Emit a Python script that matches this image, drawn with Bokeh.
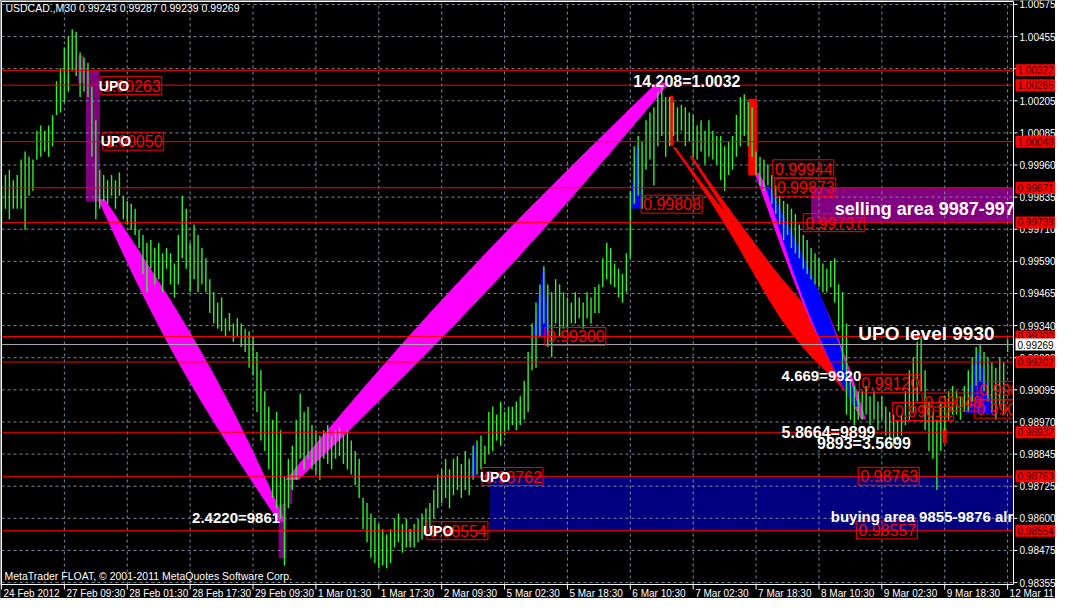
import numpy as np
from bokeh.plotting import figure
from bokeh.models import Range1d
from bokeh.core.properties import value
from bokeh.embed import file_html
from bokeh.resources import INLINE

# ---------------- data ----------------
symbol_caption = "USDCAD.,M30  0.99243 0.99287 0.99239 0.99269"
copyright_caption = "MetaTrader FLOAT, \u00a9 2001-2011 MetaQuotes Software Corp."

# M30 bar highs / lows in pips (price * 10000)
bar_high_pips = [
    9988, 9992, 9994, 9990, 9992, 9998, 10001, 9999, 9998, 10009,
    10011, 10009, 10011, 10015, 10028, 10033, 10041, 10045, 10048, 10047,
    10039, 10037, 10035, 10026, 10013, 9994, 9992, 9990, 9992, 9990,
    9993, 9984, 9982, 9981, 9979, 9971, 9969, 9966, 9967, 9964,
    9966, 9962, 9964, 9962, 9958, 9969, 9984, 9979, 9966, 9973,
    9969, 9964, 9960, 9952, 9947, 9943, 9945, 9937, 9939, 9935,
    9937, 9935, 9933, 9932, 9930, 9924, 9917, 9909, 9903, 9898,
    9901, 9894, 9876, 9883, 9888, 9898, 9908, 9901, 9903, 9896,
    9894, 9892, 9894, 9896, 9892, 9894, 9895, 9892, 9894, 9890,
    9886, 9883, 9868, 9866, 9862, 9860, 9858, 9856, 9854, 9856,
    9860, 9862, 9858, 9860, 9856, 9858, 9860, 9862, 9864, 9866,
    9871, 9877, 9879, 9883, 9879, 9883, 9884, 9881, 9886, 9883,
    9888, 9890, 9892, 9888, 9901, 9903, 9900, 9905, 9901, 9903,
    9903, 9905, 9907, 9913, 9924, 9935, 9943, 9950, 9957, 9950,
    9947, 9952, 9950, 9947, 9945, 9943, 9947, 9945, 9943, 9947,
    9945, 9949, 9950, 9960, 9966, 9964, 9958, 9956, 9954, 9962,
    9986, 10003, 10007, 10005, 10013, 10016, 10018, 10024, 10026, 10022,
    10022, 10020, 10018, 10019, 10018, 10016, 10015, 10011, 10013, 10009,
    10013, 10009, 10007, 10007, 10003, 10005, 10007, 10015, 10022, 10023,
    10020, 10018, 10001, 9999, 9998, 9996, 9992, 9988, 9984, 9982,
    9981, 9979, 9977, 9973, 9969, 9967, 9964, 9962, 9960, 9958,
    9956, 9959, 9960, 9950, 9947, 9935, 9913, 9911, 9909, 9909,
    9911, 9907, 9909, 9905, 9907, 9903, 9901, 9900, 9898, 9900,
    9909, 9917, 9922, 9928, 9930, 9917, 9905, 9901, 9898, 9905,
    9907, 9909, 9911, 9909, 9907, 9911, 9917, 9922, 9926, 9927,
    9924, 9922, 9920, 9918, 9922, 9920, 9929,
]
bar_low_pips = [
    9973, 9979, 9975, 9979, 9979, 9979, 9971, 9984, 9986, 9998,
    9999, 10001, 9999, 10003, 10015, 10016, 10020, 10024, 10032, 10030,
    10022, 10024, 10022, 9999, 9975, 9979, 9982, 9981, 9984, 9979,
    9984, 9975, 9973, 9971, 9969, 9964, 9954, 9947, 9956, 9950,
    9952, 9947, 9956, 9950, 9945, 9950, 9960, 9956, 9947, 9952,
    9947, 9950, 9947, 9939, 9935, 9933, 9932, 9930, 9932, 9928,
    9930, 9926, 9924, 9918, 9915, 9901, 9890, 9886, 9879, 9868,
    9864, 9860, 9842, 9864, 9871, 9875, 9883, 9879, 9883, 9879,
    9877, 9875, 9883, 9881, 9879, 9883, 9884, 9881, 9879, 9877,
    9873, 9868, 9856, 9851, 9845, 9843, 9841, 9842, 9841, 9843,
    9849, 9851, 9847, 9849, 9849, 9849, 9851, 9852, 9854, 9856,
    9860, 9864, 9866, 9868, 9864, 9869, 9871, 9868, 9871, 9869,
    9875, 9877, 9879, 9881, 9885, 9886, 9890, 9888, 9892, 9894,
    9896, 9894, 9896, 9898, 9901, 9917, 9918, 9930, 9935, 9926,
    9922, 9935, 9930, 9933, 9933, 9935, 9935, 9937, 9933, 9937,
    9935, 9939, 9939, 9949, 9952, 9950, 9949, 9945, 9943, 9947,
    9960, 9981, 9984, 9979, 9994, 9998, 9988, 10003, 10007, 9999,
    10003, 10007, 10005, 10009, 10003, 10005, 9999, 9998, 10001, 9996,
    9999, 9998, 9996, 9990, 9986, 9992, 9994, 9999, 10003, 10007,
    10003, 9999, 9992, 9988, 9986, 9988, 9981, 9977, 9973, 9967,
    9969, 9964, 9962, 9960, 9956, 9954, 9952, 9950, 9949, 9947,
    9947, 9949, 9943, 9932, 9917, 9900, 9898, 9896, 9898, 9898,
    9900, 9896, 9898, 9894, 9898, 9892, 9890, 9888, 9890, 9892,
    9896, 9898, 9901, 9905, 9909, 9894, 9886, 9883, 9871, 9886,
    9894, 9898, 9900, 9900, 9898, 9901, 9901, 9905, 9911, 9913,
    9909, 9905, 9901, 9898, 9903, 9900, 9924,
]

x_tick_labels = ["24 Feb 2012", "27 Feb 09:30", "28 Feb 01:30", "28 Feb 17:30",
                 "29 Feb 09:30", "1 Mar 01:30", "1 Mar 17:30", "2 Mar 09:30",
                 "5 Mar 02:30", "5 Mar 18:30", "6 Mar 10:30", "7 Mar 02:30",
                 "7 Mar 18:30", "8 Mar 10:30", "9 Mar 02:30", "9 Mar 18:30",
                 "12 Mar 11:30"]
bars_per_x_tick = 16
y_tick_labels = ["1.00575", "1.00455", "1.00330", "1.00205", "1.00085", "0.99960",
                 "0.99835", "0.99710", "0.99590", "0.99465", "0.99340", "0.99220",
                 "0.99095", "0.98970", "0.98845", "0.98725", "0.98600", "0.98475",
                 "0.98355"]

level_prices = [1.00322, 1.00265, 1.00048, 0.99871, 0.99738,
                0.99300, 0.99202, 0.98932, 0.98763, 0.98554]
current_price = 0.99269

# price boxes drawn on the chart (text = price level), left edge in bars
box_label_texts = ["1.00263", "1.00050", "0.99808", "0.99300", "0.98762", "0.98554",
                   "0.99944", "0.99873", "0.99737", "0.99120", "0.99012", "0.99048",
                   "0.99093", "0.99021", "0.98763", "0.98557"]
box_label_bars = [25.25, 25.75, 162.75, 138.25, 122.25, 108.25,
                  196.25, 196.75, 204.0, 218.25, 226.75, 234.25,
                  248.25, 247.5, 218.0, 217.5]

upo_bars = [24.75, 25.25, 121.75, 107.25]
upo_prices = [1.00263, 1.00050, 0.98762, 0.98554]

note_texts = ["14.208=1.0032", "2.4220=9861", "UPO level 9930", "4.669=9920",
              "5.8664=9899", "9893=3.5699"]
note_bars = [160.75, 48.5, 218.0, 198.5, 198.5, 207.5]
note_prices = [1.00281, 0.98604, 0.99312, 0.99150, 0.98932, 0.98890]

sell_text, sell_bar, sell_price = "selling area 9987-997", 212.0, 0.99791
buy_text, buy_bar, buy_price = "buying area 9855-9876 alr", 211.0, 0.98607

sell_zone = (206.0, 262.0, 0.99871, 0.99738)   # left, right, top, bottom
buy_zone = (124.25, 262.0, 0.98763, 0.98557)

upo_zone_left = [19.5, 21.5, 70.5, 73.0, 103.5]
upo_zone_right = [21.0, 25.0, 72.5, 74.0, 104.5]
upo_zone_top = [1.00379, 1.00319, 0.98657, 0.98758, 0.98562]
upo_zone_bottom = [1.00273, 0.99817, 0.98449, 0.98657, 0.98513]

red_block_left = [170.0, 190.0, 239.5]
red_block_right = [171.0, 192.25, 240.5]
red_block_top = [1.00224, 1.00213, 0.98947]
red_block_bottom = [1.00032, 0.99919, 0.98890]

# blue spikes: left bar, apex bar, right bar, apex price, base price
spike_left = [160.0, 135.25, 119.5, 245.5]
spike_apex = [161.75, 138.0, 120.25, 248.25]
spike_right = [162.75, 139.25, 120.75, 252.5]
spike_top = [1.00034, 0.99572, 0.98890, 0.99252]
spike_base = [0.99793, 0.99297, 0.98762, 0.99007]

# waves (zig-zag bands)
wave_start_bar = [25.5, 74.0, 171.25, 175.5, 192.25, 195.0]
wave_start_price = [0.99825, 0.98751, 1.00025, 0.99990, 0.99927, 0.99874]
wave_end_bar = [71.25, 168.25, 216.5, 217.75, 219.25, 217.25]
wave_end_price = [0.98592, 1.00273, 0.99080, 0.99040, 0.98984, 0.99033]

# ---------------- styles / layout ----------------
WAVE_COLORS = ["#ff00ff", "#ff00ff", "#ff0000", "#ff0000", "#ff00ff", "#0000ff"]
WAVE_WMAX = [14, 18, 17, 10, 10, 9]     # max half width, px
WAVE_WMIN = [3, 6, 1, 1, 2, 2]
WAVE_SKEW = [1.0, 1.0, 2.2, 1.8, 1.2, 1.2]

FONT = value("Liberation Sans")
X0, X1 = 0.0, 257.5            # chart window in bars
Y0, Y1 = 0.983475, 1.005863    # chart window in price
W, H = 1055, 598               # canvas
CL, CR, CT, CB = 1, 1013, 1, 584   # chart frame edges in canvas pixels
PXB = (CR - CL) / (X1 - X0)
PXP = (CB - CT) / (Y1 - Y0)
XS, XE = X0 - CL / PXB, X0 + (W - CL) / PXB
YS, YE = Y1 - (H - CT) / PXP, Y1 + CT / PXP
GRID_COLOR = "#7a8899"

p = figure(width=W, height=H, x_range=Range1d(XS, XE), y_range=Range1d(YS, YE),
           x_axis_location=None, y_axis_location=None,
           output_backend="svg", toolbar_location=None, min_border=0,
           background_fill_color="black", border_fill_color="black",
           outline_line_color=None)
p.grid.visible = False

x_tick_bars = [k * bars_per_x_tick for k in range(len(x_tick_labels))]
y_tick_pos = [float(v) for v in np.linspace(float(y_tick_labels[0]), float(y_tick_labels[-1]),
                                            len(y_tick_labels))]

# zones
p.quad(left=[sell_zone[0]], right=[sell_zone[1]], top=[sell_zone[2]], bottom=[sell_zone[3]],
       fill_color="#800080", line_color=None)
p.quad(left=[buy_zone[0]], right=[buy_zone[1]], top=[buy_zone[2]], bottom=[buy_zone[3]],
       fill_color="#000080", line_color=None)
p.quad(left=upo_zone_left, right=upo_zone_right, top=upo_zone_top, bottom=upo_zone_bottom,
       fill_color="#800080", line_color=None)

# dashed grid
n_x, n_y = len(x_tick_bars), len(y_tick_pos)
p.segment(x0=x_tick_bars, x1=x_tick_bars, y0=[Y0] * n_x, y1=[Y1] * n_x,
          line_color=GRID_COLOR, line_dash="3 3", line_width=1)
p.segment(x0=[X0] * n_y, x1=[X1] * n_y, y0=y_tick_pos, y1=y_tick_pos,
          line_color=GRID_COLOR, line_dash="3 3", line_width=1)

# waves
for i in range(len(wave_start_bar)):
    t = np.linspace(0, 1, 80)
    cx = wave_start_bar[i] + (wave_end_bar[i] - wave_start_bar[i]) * t
    cy = wave_start_price[i] + (wave_end_price[i] - wave_start_price[i]) * t
    w = (WAVE_WMIN[i] + (WAVE_WMAX[i] - WAVE_WMIN[i]) * np.sin(np.pi * t ** WAVE_SKEW[i])) / PXB
    xs = np.concatenate([cx - w, (cx + w)[::-1]])
    ys = np.concatenate([cy, cy[::-1]])
    p.patch(xs, ys, fill_color=WAVE_COLORS[i], line_color=WAVE_COLORS[i], line_width=1)

# blue spikes
p.patches(xs=[[l, a, r] for l, a, r in zip(spike_left, spike_apex, spike_right)],
          ys=[[b, t, b] for t, b in zip(spike_top, spike_base)],
          fill_color="#0000ff", line_color="#0000ff")

# red blocks
p.quad(left=red_block_left, right=red_block_right, top=red_block_top, bottom=red_block_bottom,
       fill_color="#ff0000", line_color=None)

# price bars
idx = list(range(len(bar_high_pips)))
highs = [v / 10000.0 for v in bar_high_pips]
lows = [v / 10000.0 for v in bar_low_pips]
p.segment(x0=idx, y0=lows, x1=idx, y1=highs, line_color="#30f030", line_width=1.4)

# level lines
n_l = len(level_prices)
p.segment(x0=[X0] * n_l, x1=[X1] * n_l, y0=level_prices, y1=level_prices,
          line_color="#ff0000", line_width=1)
p.segment(x0=[X0], x1=[X1], y0=[current_price], y1=[current_price],
          line_color="#a8a8a8", line_width=1)

# boxed price labels on the chart
box_prices = [float(s) for s in box_label_texts]
p.quad(left=box_label_bars, right=[b + 61.0 / PXB for b in box_label_bars],
       top=[v + 9.0 / PXP for v in box_prices], bottom=[v - 9.0 / PXP for v in box_prices],
       fill_alpha=0, line_color="#ff0000", line_width=1)
p.text(x=[b + 2.0 / PXB for b in box_label_bars], y=box_prices, text=box_label_texts,
       text_color="#ff0000", text_font=FONT, text_font_size="16px",
       text_baseline="middle", text_align="left")

# white bold notes
p.text(x=upo_bars, y=upo_prices, text=["UPO"] * len(upo_bars), text_color="white",
       text_font=FONT, text_font_style="bold", text_font_size="14px", text_baseline="middle")
sizes = ["16px", "15px", "19px", "15px", "16px", "16px"]
for tx, bx, py, fs in zip(note_texts, note_bars, note_prices, sizes):
    p.text(x=[bx], y=[py], text=[tx], text_color="white", text_font=FONT,
           text_font_style="bold", text_font_size=fs, text_baseline="middle")
p.text(x=[sell_bar], y=[sell_price], text=[sell_text], text_color="white", text_font=FONT,
       text_font_style="bold", text_font_size="18px", text_baseline="middle")
p.text(x=[buy_bar], y=[buy_price], text=[buy_text], text_color="white", text_font=FONT,
       text_font_style="bold", text_font_size="15px", text_baseline="middle")

# captions
p.text(x=[1.0], y=[1.00560], text=[symbol_caption], text_color="white", text_font=FONT,
       text_font_size="10.5px", text_baseline="middle")
p.text(x=[0.75], y=[0.98381], text=[copyright_caption], text_color="white", text_font=FONT,
       text_font_size="10.5px", text_baseline="middle")

# ---- margins outside the chart window (price scale and time scale) ----
p.quad(left=[X1 + 0.5 / PXB], right=[XE + 1], top=[YE + 1], bottom=[YS - 1],
       fill_color="black", line_color=None)
p.quad(left=[XS - 1], right=[XE + 1], top=[Y0 - 0.5 / PXP], bottom=[YS - 1],
       fill_color="black", line_color=None)
# frame
p.segment(x0=[X0, X0, X1, X0], x1=[X0, X1, X1, X1], y0=[Y0, Y1, Y0, Y0], y1=[Y1, Y1, Y1, Y0],
          line_color="white", line_width=1)
# price scale ticks and labels
p.segment(x0=[X1] * n_y, x1=[X1 + 4 / PXB] * n_y, y0=y_tick_pos, y1=y_tick_pos,
          line_color="white", line_width=1)
p.text(x=[X1 + 6 / PXB] * n_y, y=y_tick_pos, text=y_tick_labels, text_color="white",
       text_font=FONT, text_font_size="10px", text_baseline="middle", text_align="left")
# time scale ticks and labels
p.segment(x0=x_tick_bars, x1=x_tick_bars, y0=[Y0] * n_x, y1=[Y0 - 5 / PXP] * n_x,
          line_color="white", line_width=1)
p.text(x=[b + 2 / PXB for b in x_tick_bars], y=[Y0 - 3 / PXP] * n_x, text=x_tick_labels,
       text_color="white", text_font=FONT, text_font_size="10px", text_baseline="top",
       text_align="left")
# price tags
p.quad(left=[X1 + 2 / PXB] * n_l, right=[XE + 1] * n_l,
       top=[v + 6 / PXP for v in level_prices], bottom=[v - 6 / PXP for v in level_prices],
       fill_color="#ff0000", line_color=None)
p.text(x=[X1 + 4 / PXB] * n_l, y=level_prices, text=["%.5f" % v for v in level_prices],
       text_color="#3a0000", text_font=FONT, text_font_size="10px",
       text_baseline="middle", text_align="left")
p.quad(left=[X1 + 2 / PXB], right=[XE + 1], top=[current_price + 6 / PXP],
       bottom=[current_price - 6 / PXP], fill_color="white", line_color=None)
p.text(x=[X1 + 4 / PXB], y=[current_price], text=["%.5f" % current_price],
       text_color="black", text_font=FONT, text_font_size="10px",
       text_baseline="middle", text_align="left")

open("out.html", "w").write(file_html(p, INLINE))
